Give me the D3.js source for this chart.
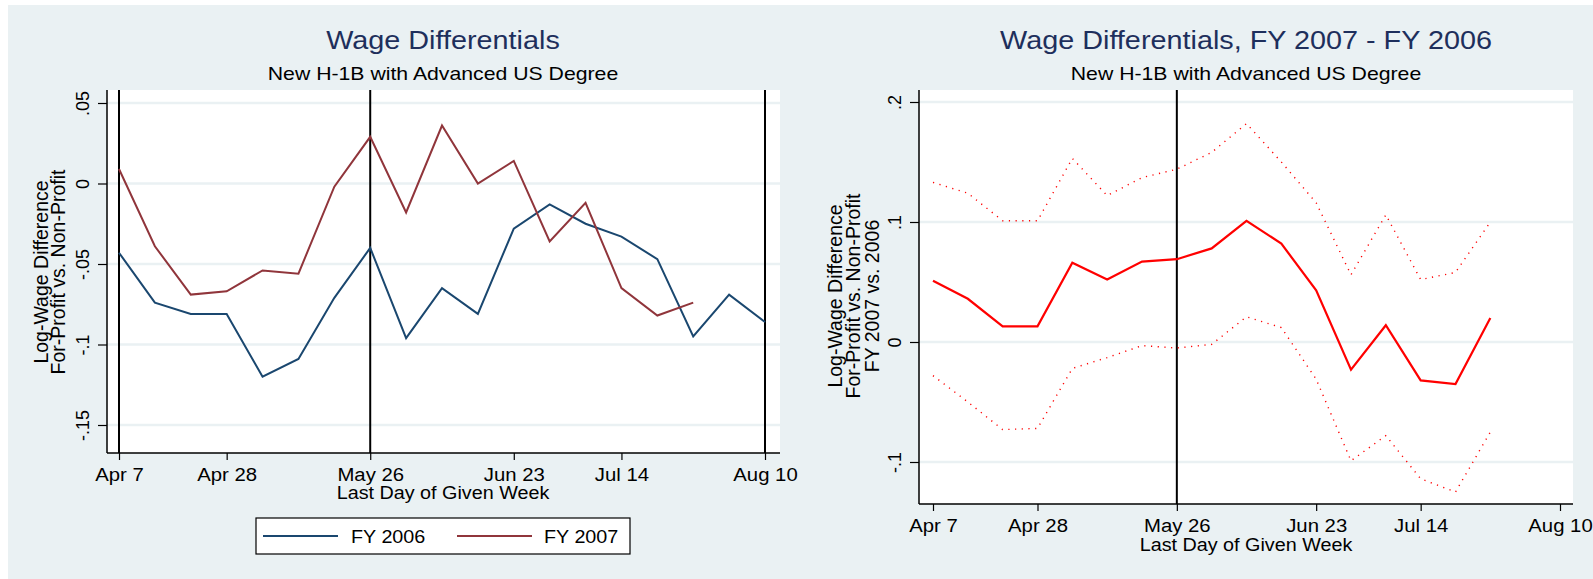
<!DOCTYPE html>
<html>
<head>
<meta charset="utf-8">
<script src="https://cdn.jsdelivr.net/npm/d3@7"></script>
<style>
  body { margin: 0; background: #fff; }
  svg text { font-family: "Liberation Sans", Arial, sans-serif; }
</style>
</head>
<body>
<svg id="chart" width="1593" height="579"></svg>
<script>
// week index 0 = Apr 7 ... 18 = Aug 10
const weeks = [0, 1, 2, 3, 4, 5, 6, 7, 8, 9, 10, 11, 12, 13, 14, 15, 16, 17, 18];
const tickWeeks = [0, 3, 7, 11, 14, 18];
const tickLabels = ['Apr 7', 'Apr 28', 'May 26', 'Jun 23', 'Jul 14', 'Aug 10'];
const markerWeeksLeft = [0, 7, 18];
const markerWeeksRight = [7];

const fy2006 = [-0.043, -0.074, -0.081, -0.081, -0.120, -0.109, -0.071, -0.040, -0.096, -0.065,
                -0.081, -0.028, -0.013, -0.025, -0.033, -0.047, -0.095, -0.069, -0.086];
const fy2007 = [0.009, -0.039, -0.069, -0.067, -0.054, -0.056, -0.002, 0.029, -0.018, 0.036,
                0.000, 0.014, -0.036, -0.012, -0.065, -0.082, -0.074];

const diff  = [0.051, 0.036, 0.013, 0.013, 0.066, 0.052, 0.067, 0.069, 0.078, 0.101,
               0.082, 0.043, -0.023, 0.014, -0.032, -0.035, 0.020];
const upper = [0.133, 0.124, 0.101, 0.101, 0.153, 0.122, 0.137, 0.144, 0.158, 0.182,
               0.150, 0.116, 0.056, 0.106, 0.052, 0.058, 0.100];
const lower = [-0.028, -0.050, -0.073, -0.072, -0.022, -0.013, -0.003, -0.005, -0.002, 0.021,
               0.012, -0.031, -0.099, -0.078, -0.114, -0.125, -0.075];

const leftTicks = [0.05, 0, -0.05, -0.1, -0.15];
const rightTicks = [0.2, 0.1, 0, -0.1];

const svg = d3.select('#chart');
const bg = '#eaf1f3';
const SX = 1.13; // horizontal text stretch seen in the original

svg.append('rect').attr('x', 8).attr('y', 5).attr('width', 1585).attr('height', 574).attr('fill', bg);

function fmt(v) {
  if (v === 0) return '0';
  let s = String(+v.toFixed(3));
  return s.replace('0.', '.');
}

function hText(x, y, txt, size, opts = {}) {
  return svg.append('text')
    .attr('transform', `translate(${x},${y}) scale(${SX},1)`)
    .attr('text-anchor', opts.anchor || 'middle')
    .attr('font-size', size)
    .attr('fill', opts.fill || '#000')
    .text(txt);
}

function vText(x, y, txt, size) {
  return svg.append('text')
    .attr('transform', `translate(${x},${y}) rotate(-90)`)
    .attr('text-anchor', 'middle')
    .attr('font-size', size)
    .attr('fill', '#000')
    .text(txt);
}

function panel(cfg) {
  const { box, xRange, yDomain, yRange, yTicks } = cfg;
  const x = d3.scaleLinear().domain([0, 18]).range(xRange);
  const y = d3.scaleLinear().domain(yDomain).range(yRange);

  svg.append('rect')
    .attr('x', box.x0).attr('y', box.y0)
    .attr('width', box.x1 - box.x0).attr('height', box.y1 - box.y0)
    .attr('fill', '#fff');

  // grid
  svg.append('g').selectAll('line').data(yTicks).join('line')
    .attr('x1', box.x0).attr('x2', box.x1)
    .attr('y1', d => y(d)).attr('y2', d => y(d))
    .attr('stroke', bg).attr('stroke-width', 2.5);

  const g = svg.append('g');

  // axes
  const ya = svg.append('g').attr('transform', `translate(${box.x0},0)`)
    .call(d3.axisLeft(y).tickValues(yTicks).tickSize(9).tickFormat(fmt));
  ya.select('.domain').attr('d', `M0,${box.y0}V${box.y1}`).attr('stroke-width', 1.5);
  ya.selectAll('.tick line').attr('stroke-width', 1.2);
  ya.selectAll('.tick text')
    .attr('x', 0).attr('y', -18).attr('dy', 0)
    .attr('transform', 'rotate(-90)')
    .attr('text-anchor', 'middle')
    .attr('font-size', 18).attr('font-family', null);

  const xa = svg.append('g').attr('transform', `translate(0,${box.y1})`)
    .call(d3.axisBottom(x).tickValues(tickWeeks).tickSize(7).tickFormat((d, i) => tickLabels[i]));
  xa.select('.domain').attr('d', `M${box.x0},0H${box.x1}`).attr('stroke-width', 1.5);
  xa.selectAll('.tick line').attr('stroke-width', 1.2);
  xa.selectAll('.tick text')
    .attr('y', 0).attr('dy', 0)
    .attr('transform', `translate(0,${cfg.tickBase}) scale(${SX},1)`)
    .attr('font-size', 18).attr('font-family', null);

  return { x, y, g };
}

// ---------- left panel ----------
const L = panel({
  box: { x0: 107, x1: 780, y0: 90, y1: 453 },
  xRange: [119, 765],
  yDomain: [-0.15, 0.05], yRange: [425, 103],
  yTicks: leftTicks,
  tickBase: 28
});

L.g.selectAll('line.mark').data(markerWeeksLeft).join('line')
  .attr('x1', d => L.x(d)).attr('x2', d => L.x(d))
  .attr('y1', 90).attr('y2', 453)
  .attr('stroke', '#000').attr('stroke-width', 2);

const lineL = d3.line().x((d, i) => L.x(weeks[i])).y(d => L.y(d));
L.g.append('path').datum(fy2006).attr('d', lineL)
  .attr('fill', 'none').attr('stroke', '#1a476f').attr('stroke-width', 2);
L.g.append('path').datum(fy2007).attr('d', lineL)
  .attr('fill', 'none').attr('stroke', '#90353b').attr('stroke-width', 2);

hText(443, 49, 'Wage Differentials', 25.5, { fill: '#1e2f5c' });
hText(443, 80, 'New H-1B with Advanced US Degree', 18.8);
hText(443, 499, 'Last Day of Given Week', 17.5);
vText(48, 272, 'Log-Wage Difference', 19.5);
vText(65, 272, 'For-Profit vs. Non-Profit', 19.5);

// legend
svg.append('rect').attr('x', 256).attr('y', 518).attr('width', 374).attr('height', 36)
  .attr('fill', '#fff').attr('stroke', '#000').attr('stroke-width', 1.2);
svg.append('line').attr('x1', 263).attr('x2', 338).attr('y1', 536).attr('y2', 536)
  .attr('stroke', '#1a476f').attr('stroke-width', 2);
svg.append('line').attr('x1', 457).attr('x2', 532).attr('y1', 536).attr('y2', 536)
  .attr('stroke', '#90353b').attr('stroke-width', 2);
hText(351, 543, 'FY 2006', 17.5, { anchor: 'start' });
hText(544, 543, 'FY 2007', 17.5, { anchor: 'start' });

// ---------- right panel ----------
const R = panel({
  box: { x0: 919, x1: 1573, y0: 90, y1: 504 },
  xRange: [933, 1560],
  yDomain: [-0.1, 0.2], yRange: [462, 102],
  yTicks: rightTicks,
  tickBase: 28
});

R.g.selectAll('line.mark').data(markerWeeksRight).join('line')
  .attr('x1', d => R.x(d)).attr('x2', d => R.x(d))
  .attr('y1', 90).attr('y2', 504)
  .attr('stroke', '#000').attr('stroke-width', 2);

const lineR = d3.line().x((d, i) => R.x(weeks[i])).y(d => R.y(d));
[upper, lower].forEach(s => {
  R.g.append('path').datum(s).attr('d', lineR)
    .attr('fill', 'none').attr('stroke', '#ff0000').attr('stroke-width', 1.4)
    .attr('stroke-dasharray', '1.2,5.5');
});
R.g.append('path').datum(diff).attr('d', lineR)
  .attr('fill', 'none').attr('stroke', '#ff0000').attr('stroke-width', 2.2);

hText(1246, 49, 'Wage Differentials, FY 2007 - FY 2006', 25.5, { fill: '#1e2f5c' });
hText(1246, 80, 'New H-1B with Advanced US Degree', 18.8);
hText(1246, 551, 'Last Day of Given Week', 17.5);
vText(842, 296, 'Log-Wage Difference', 19.5);
vText(860, 296, 'For-Profit vs. Non-Profit', 19.5);
vText(879, 296, 'FY 2007 vs. 2006', 19.5);
</script>
</body>
</html>
